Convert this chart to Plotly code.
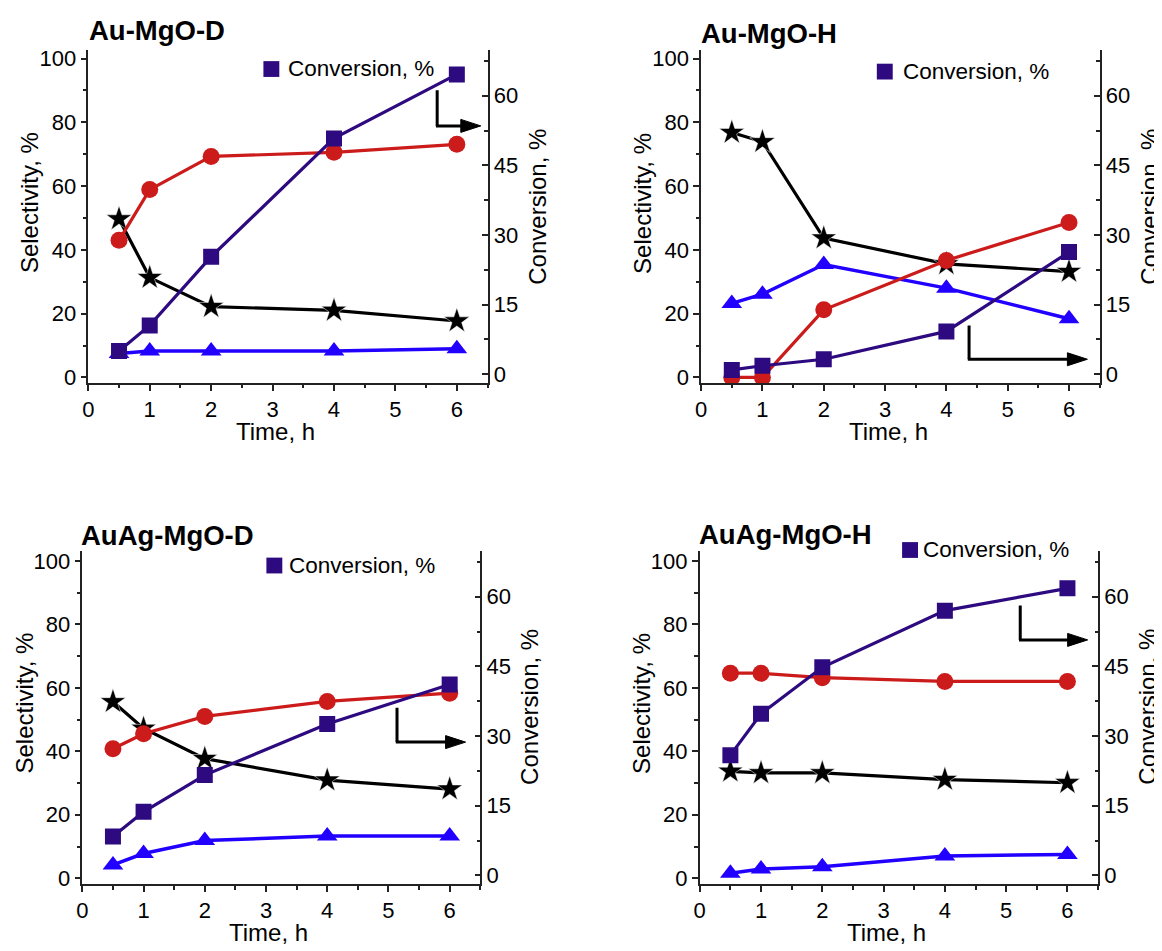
import plotly.graph_objects as go

# ---------------- data ----------------
time_h = [0.5, 1, 2, 4, 6]

titles = ["Au-MgO-D", "Au-MgO-H", "AuAg-MgO-D", "AuAg-MgO-H"]

# selectivity (left axis, %)
sel_red = [
    [43.0, 58.9, 69.3, 70.6, 73.1],
    [0.0, 0.0, 21.2, 36.7, 48.6],
    [40.8, 45.5, 51.0, 55.7, 58.3],
    [64.6, 64.6, 63.2, 62.0, 62.0],
]
sel_black = [
    [49.7, 31.3, 22.2, 21.0, 17.7],
    [76.8, 73.9, 43.7, 35.6, 33.2],
    [55.6, 47.2, 37.7, 30.9, 28.1],
    [33.7, 33.2, 33.2, 31.1, 30.1],
]
sel_blue = [
    [7.5, 8.3, 8.3, 8.3, 9.0],
    [23.2, 26.1, 35.4, 28.0, 18.4],
    [4.2, 7.8, 11.9, 13.3, 13.3],
    [1.6, 2.9, 3.6, 7.0, 7.5],
]
# conversion (right axis, %)
conversion = [
    [5.0, 10.5, 25.3, 50.8, 64.6],
    [0.9, 1.8, 3.2, 9.2, 26.3],
    [8.4, 13.7, 21.6, 32.6, 41.1],
    [25.9, 34.8, 44.8, 57.0, 61.8],
]

x_ticks = [0, 1, 2, 3, 4, 5, 6]
left_ticks = [0, 20, 40, 60, 80, 100]
right_ticks = [0, 15, 30, 45, 60]

# ---------------- layout geometry (screen pixels) ----------------
W, H = 1162, 951
OFF = 8  # default page margin around the plot div
FONT = "Liberation Sans, Arial, sans-serif"
RED, BLACK, BLUE, PURPLE = "#CC1B1B", "#000000", "#2200FF", "#2E0A80"
AXC = "#222222"

panels = [
    dict(x0=82.7, x1=484.0, yt=46.7, yb=383.5, yl=[-1.8, 102.6], yr=[-1.95, 69.8],
         title_xy=(83, 26.5), leg_sq=(266.7, 65.7), leg_tx=(283, 65.5),
         arrow=dict(xv=5.68, ytop=61.2, ybot=53.5, xtip=6.39)),
    dict(x0=698.7, x1=1099.3, yt=46.7, yb=383.5, yl=[-1.8, 102.6], yr=[-1.95, 69.8],
         title_xy=(699, 30), leg_sq=(883.3, 68.3), leg_tx=(901.7, 68),
         arrow=dict(xv=4.37, ytop=10.5, ybot=3.2, xtip=6.30)),
    dict(x0=76.7, x1=476.7, yt=553.0, yb=890.5, yl=[-1.9, 103.2], yr=[-1.9, 69.9],
         title_xy=(75, 537.8), leg_sq=(269.7, 568), leg_tx=(284, 567.5),
         arrow=dict(xv=5.14, ytop=36.1, ybot=28.7, xtip=6.26)),
    dict(x0=697.3, x1=1097.7, yt=553.0, yb=890.5, yl=[-1.9, 103.2], yr=[-1.9, 69.9],
         title_xy=(697, 536.5), leg_sq=(908.7, 552.3), leg_tx=(921.7, 552),
         arrow=dict(xv=5.23, ytop=58.1, ybot=50.7, xtip=6.33)),
]


def px(x):
    return (x - OFF) / W


def py(y):
    return 1 - (y - OFF) / H


fig = go.Figure()
layout = dict(
    width=W, height=H, margin=dict(l=0, r=0, t=0, b=0),
    paper_bgcolor="white", plot_bgcolor="white", showlegend=False,
    font=dict(family=FONT, color="black", size=22),
)
annotations = []
shapes = []

for i, p in enumerate(panels):
    xa = "x" if i == 0 else f"x{i + 1}"
    yl_id = 2 * i + 1
    yr_id = 2 * i + 2
    yla = "y" if yl_id == 1 else f"y{yl_id}"
    yra = f"y{yr_id}"

    xkey = "xaxis" if i == 0 else f"xaxis{i + 1}"
    ylkey = "yaxis" if yl_id == 1 else f"yaxis{yl_id}"
    yrkey = f"yaxis{yr_id}"

    dom_x = [px(p["x0"]), px(p["x1"])]
    dom_y = [py(p["yb"]), py(p["yt"])]

    common = dict(showgrid=False, zeroline=False, showline=True, linecolor=AXC,
                  linewidth=1.5, tickcolor=AXC, tickwidth=1.5,
                  tickfont=dict(size=22, family=FONT, color="black"))

    layout[xkey] = dict(domain=dom_x, anchor=yla, range=[0, 6.5], tickmode="array",
                        tickvals=x_ticks, ticks="outside", ticklen=6,
                        minor=dict(ticks="outside", ticklen=3.5, tick0=0, dtick=0.5,
                                   tickcolor=AXC, tickwidth=1.5),
                        **common)
    layout[ylkey] = dict(domain=dom_y, anchor=xa, range=p["yl"], tickmode="array",
                         tickvals=left_ticks, ticks="outside", ticklen=6,
                         minor=dict(ticks="outside", ticklen=3.5, tick0=0, dtick=10,
                                    tickcolor=AXC, tickwidth=1.5),
                         **common)
    layout[yrkey] = dict(domain=dom_y, anchor=xa, overlaying=yla, side="right",
                         range=p["yr"], tickmode="array", tickvals=right_ticks,
                         ticks="inside", ticklen=6,
                         minor=dict(ticks="inside", ticklen=3.5, tick0=0, dtick=7.5,
                                    tickcolor=AXC, tickwidth=1.5),
                         **common)

    # selectivity traces
    fig.add_trace(go.Scatter(x=time_h, y=sel_blue[i], xaxis=xa, yaxis=yla,
                             mode="lines+markers", line=dict(color=BLUE, width=3.5),
                             marker=dict(symbol="triangle-up", size=18, color=BLUE)))
    fig.add_trace(go.Scatter(x=time_h, y=sel_black[i], xaxis=xa, yaxis=yla,
                             mode="lines+markers", line=dict(color=BLACK, width=3.2),
                             marker=dict(symbol="star", size=19, color=BLACK,
                                         line=dict(color="white", width=0.5))))
    fig.add_trace(go.Scatter(x=time_h, y=sel_red[i], xaxis=xa, yaxis=yla,
                             mode="lines+markers", line=dict(color=RED, width=3.2),
                             marker=dict(symbol="circle", size=17, color=RED)))
    # conversion trace (right axis)
    fig.add_trace(go.Scatter(x=time_h, y=conversion[i], xaxis=xa, yaxis=yra,
                             mode="lines+markers", line=dict(color=PURPLE, width=3.2),
                             marker=dict(symbol="square", size=16, color=PURPLE)))

    # panel title
    tx, ty = p["title_xy"]
    annotations.append(dict(text=f"<b>{titles[i]}</b>", x=px(tx - 2), y=py(ty),
                            xref="paper", yref="paper", xanchor="left", yanchor="middle",
                            showarrow=False, font=dict(size=27.5, family=FONT, color="black")))
    # axis titles
    x6 = p["x0"] + 6 * (p["x1"] - p["x0"]) / 6.5
    annotations.append(dict(text="Time, h", x=px((p["x0"] + x6) / 2 + 3),
                            y=py(p["yb"] + 49), xref="paper", yref="paper",
                            xanchor="center", yanchor="middle", showarrow=False,
                            font=dict(size=24, family=FONT, color="black")))
    annotations.append(dict(text="Selectivity, %", x=px(p["x0"] - 58.5),
                            y=py(p["yt"] + 154.5), xref="paper", yref="paper",
                            xanchor="center", yanchor="middle", textangle=-90,
                            showarrow=False, font=dict(size=24, family=FONT, color="black")))
    annotations.append(dict(text="Conversion, %", x=px(p["x1"] + 50),
                            y=py(p["yt"] + 158), xref="paper", yref="paper",
                            xanchor="center", yanchor="middle", textangle=-90,
                            showarrow=False, font=dict(size=24, family=FONT, color="black")))

    # legend (square + text)
    sx, sy = p["leg_sq"]
    shapes.append(dict(type="rect", xref="paper", yref="paper",
                       x0=px(sx - 8), x1=px(sx + 8), y0=py(sy + 8), y1=py(sy - 8),
                       fillcolor=PURPLE, line=dict(width=0)))
    lx, ly = p["leg_tx"]
    annotations.append(dict(text="Conversion, %", x=px(lx - 2), y=py(ly), xref="paper",
                            yref="paper", xanchor="left", yanchor="middle",
                            showarrow=False, font=dict(size=22.5, family=FONT, color="black")))

    # bent arrow pointing to the right axis
    a = p["arrow"]
    shapes.append(dict(type="line", xref=xa, yref=yra, x0=a["xv"], x1=a["xv"],
                       y0=a["ytop"], y1=a["ybot"], line=dict(color="black", width=3)))
    shapes.append(dict(type="line", xref=xa, yref=yra, x0=a["xv"] - 0.02, x1=a["xtip"] - 0.2,
                       y0=a["ybot"], y1=a["ybot"], line=dict(color="black", width=3)))
    shapes.append(dict(type="path", xref=xa, yref=yra, xsizemode="pixel", ysizemode="pixel",
                       xanchor=a["xtip"], yanchor=a["ybot"],
                       path="M 0 0 L -20 6.5 L -20 -6.5 Z",
                       fillcolor="black", line=dict(color="black", width=1)))

layout["annotations"] = annotations
layout["shapes"] = shapes
fig.update_layout(**layout)

fig.write_html("out.html")
